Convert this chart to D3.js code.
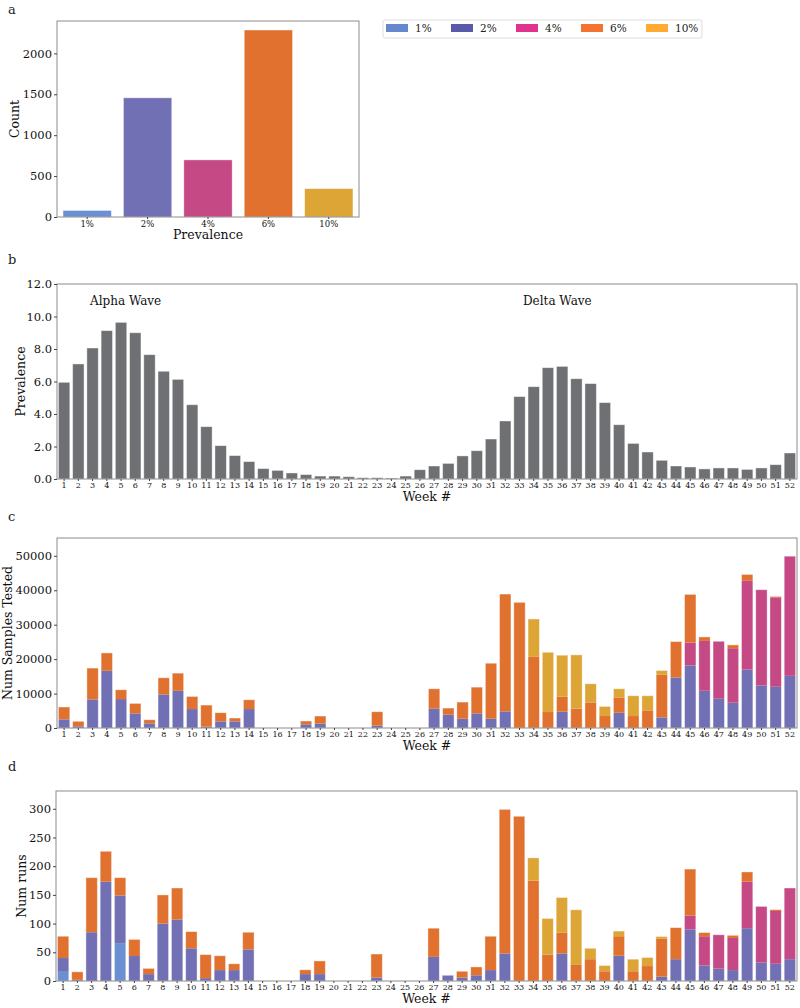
<!DOCTYPE html>
<html>
<head>
<meta charset="utf-8">
<script src="https://cdn.jsdelivr.net/npm/d3@7"></script>
<style>
  body { margin: 0; background: #fff; }
  svg { font-family: "DejaVu Serif", serif; }
  .frame { fill: none; stroke: #8c8c8c; stroke-width: 1; }
  .tick line { stroke: #444; }
  .domain { display: none; }
</style>
</head>
<body>
<div id="chart"></div>
<script>
// ---- donnees ----
var prevLevels = ["1%", "2%", "4%", "6%", "10%"];
var prevCounts = [80, 1457, 698, 2286, 347];

var weeks = d3.range(1, 53).map(String);

var weeklyPrevalence = [5.95, 7.08, 8.06, 9.13, 9.64, 9.0, 7.65, 6.63, 6.13, 4.57,
  3.22, 2.05, 1.44, 1.07, 0.64, 0.53, 0.37, 0.27, 0.18, 0.18,
  0.14, 0.08, 0.08, 0.06, 0.18, 0.57, 0.8, 0.96, 1.42, 1.74,
  2.46, 3.57, 5.07, 5.68, 6.85, 6.93, 6.17, 5.87, 4.7, 3.34,
  2.19, 1.66, 1.15, 0.8, 0.74, 0.62, 0.68, 0.68, 0.59, 0.68,
  0.88, 1.6];

// samples tested per prevalence level
var samples1 = [0, 0, 0, 0, 0, 0, 0, 0, 0, 0, 0, 0, 0, 0, 0, 0, 0, 0, 0, 0, 0, 0, 0, 0, 0, 0,
  0, 0, 0, 0, 0, 0, 0, 0, 0, 0, 0, 0, 0, 0, 0, 0, 0, 0, 0, 0, 0, 0, 0, 0, 0, 0];
var samples2 = [2500, 500, 8300, 16600, 8400, 4250, 1350, 9750, 10800, 5500,
  390, 1930, 1930, 5500, 0, 0, 0, 1060, 1250, 0,
  0, 0, 680, 0, 0, 0, 5600, 3860, 2700, 4250,
  2700, 4830, 0, 0, 0, 4730, 0, 0, 0, 4440,
  0, 0, 3090, 14670, 18150, 10810, 8490, 7340, 16990, 12360,
  11970, 15150];
var samples4 = [0, 0, 0, 0, 0, 0, 0, 0, 0, 0, 0, 0, 0, 0, 0, 0, 0, 0, 0, 0,
  0, 0, 0, 0, 0, 0, 0, 0, 0, 0, 0, 0, 0, 0, 0, 0, 0, 0, 0, 0,
  0, 0, 0, 0, 6660, 14480, 16700, 15830, 25770, 27800, 25970, 34750];
var samples6 = [3600, 1450, 9100, 5200, 2700, 2900, 1050, 4830, 5130, 3670,
  6270, 2510, 970, 2700, 0, 0, 0, 970, 2225, 0,
  0, 0, 4050, 0, 0, 0, 5790, 1930, 4830, 7620,
  16120, 34070, 36500, 20660, 4630, 4340, 5600, 7430, 3475, 4440,
  3475, 5120, 12450, 10430, 14000, 1160, 0, 960, 1840, 0,
  290, 0];
var samples10 = [0, 0, 0, 0, 0, 0, 0, 0, 0, 0, 0, 0, 0, 0, 0, 0, 0, 0, 0, 0,
  0, 0, 0, 0, 0, 0, 0, 0, 0, 0, 0, 0, 0, 11000, 17370, 12070, 15640, 5410, 2800, 2510,
  5890, 4240, 1160, 0, 0, 0, 0, 0, 0, 0, 0, 0];

// number of runs per prevalence level
var runs1 = [16, 0, 0, 0, 66, 0, 0, 0, 0, 0, 0, 0, 0, 0, 0, 0, 0, 0, 0, 0, 0, 0, 0, 0, 0, 0,
  0, 0, 0, 0, 0, 0, 0, 0, 0, 0, 0, 0, 0, 0, 0, 0, 0, 0, 0, 0, 0, 0, 0, 0, 0, 0];
var runs2 = [24, 2, 85, 173, 83, 43.5, 12, 100, 107, 57,
  5, 19, 19, 55, 0, 0, 0, 12, 12, 0,
  0, 0, 6, 0, 0, 0, 42, 10, 6, 10,
  19, 48, 0, 0, 0, 48, 0, 0, 0, 44,
  0, 0, 7.5, 38, 90, 27, 21.5, 19, 92, 32,
  30, 38];
var runs4 = [0, 0, 0, 0, 0, 0, 0, 0, 0, 0, 0, 0, 0, 0, 0, 0, 0, 0, 0, 0,
  0, 0, 0, 0, 0, 0, 0, 0, 0, 0, 0, 0, 0, 0, 0, 0, 0, 0, 0, 0,
  0, 0, 0, 0, 24, 51, 59, 56, 81, 98, 92, 124];
var runs6 = [38, 14, 95, 53, 31, 29, 10, 50, 55, 29,
  41, 25, 11, 30, 0, 0, 0, 7.5, 23, 0,
  0, 0, 41, 0, 0, 0, 50, 0, 11, 14.5,
  59, 251, 287, 175, 46, 36.5, 28, 38, 17, 34,
  17, 26, 66, 55, 81, 6.4, 0, 4.6, 17, 0,
  2.3, 0];
var runs10 = [0, 0, 0, 0, 0, 0, 0, 0, 0, 0, 0, 0, 0, 0, 0, 0, 0, 0, 0, 0,
  0, 0, 0, 0, 0, 0, 0, 0, 0, 0, 0, 0, 0, 39.5, 63, 61, 96, 19, 10, 9,
  21, 15, 4, 0, 0, 0, 0, 0, 0, 0, 0, 0];

// couleurs
var barColors = ["#6a8fd2", "#7270b5", "#c44985", "#e0712f", "#dca536"];
var legendColors = ["#6688cc", "#5a5aab", "#e0338c", "#f57330", "#ffaa33"];
var grayBar = "#6e7073";

// ---- svg ----
var svg = d3.select("#chart").append("svg")
    .attr("width", 800)
    .attr("height", 1008);

function panelLetter(letter, x, y) {
    svg.append("text")
        .attr("x", x).attr("y", y)
        .attr("font-size", 13)
        .attr("fill", "#222")
        .text(letter);
}

function frame(box) {
    svg.append("rect")
        .attr("class", "frame")
        .attr("x", box.left).attr("y", box.top)
        .attr("width", box.right - box.left)
        .attr("height", box.bottom - box.top);
}

function yAxis(box, y, ticks, fmt) {
    var g = svg.append("g")
        .attr("transform", "translate(" + box.left + ",0)")
        .call(d3.axisLeft(y).tickValues(ticks).tickFormat(fmt).tickSize(3).tickPadding(2));
    g.attr("font-family", null).attr("font-size", null);
    g.selectAll("text").attr("font-size", 11.5).attr("fill", "#111");
}

function xAxis(box, x, fontSize) {
    var g = svg.append("g")
        .attr("transform", "translate(0," + box.bottom + ")")
        .call(d3.axisBottom(x).tickSize(2).tickPadding(1.5));
    g.attr("font-family", null).attr("font-size", null);
    g.selectAll("text").attr("font-size", fontSize).attr("fill", "#111");
}

function axisLabels(box, xlabel, ylabel, ylabelX) {
    svg.append("text")
        .attr("x", (box.left + box.right) / 2)
        .attr("y", box.bottom + 18)
        .attr("dy", "0.35em")
        .attr("text-anchor", "middle")
        .attr("font-size", 12.5)
        .attr("fill", "#111")
        .text(xlabel);
    svg.append("text")
        .attr("transform", "translate(" + ylabelX + "," + (box.top + box.bottom) / 2 + ") rotate(-90)")
        .attr("dy", "0.35em")
        .attr("text-anchor", "middle")
        .attr("font-size", 12.5)
        .attr("fill", "#111")
        .text(ylabel);
}

//----------------------------------------------------------------
// a : distribution des prevalences
//----------------------------------------------------------------
var boxA = {left: 57, right: 359, top: 21, bottom: 217};
panelLetter("a", 8, 14);

var xA = d3.scaleBand().domain(prevLevels).range([boxA.left, boxA.right])
    .paddingInner(0.2).paddingOuter(0.1);
var yA = d3.scaleLinear().domain([0, 2396]).range([boxA.bottom, boxA.top]);

svg.append("g").selectAll("rect")
    .data(prevLevels)
    .enter().append("rect")
    .attr("x", function(d) { return xA(d); })
    .attr("width", xA.bandwidth())
    .attr("y", function(d, i) { return yA(prevCounts[i]); })
    .attr("height", function(d, i) { return yA(0) - yA(prevCounts[i]); })
    .attr("fill", function(d, i) { return barColors[i]; })
    .attr("stroke", "#fff").attr("stroke-opacity", 0.5).attr("stroke-width", 0.8);

frame(boxA);
yAxis(boxA, yA, [0, 500, 1000, 1500, 2000], d3.format("d"));
xAxis(boxA, xA, 8.5);
axisLabels(boxA, "Prevalence", "Count", 15);

// legende
var legendBox = svg.append("g");
legendBox.append("rect")
    .attr("x", 383).attr("y", 20).attr("width", 319).attr("height", 18)
    .attr("rx", 2)
    .attr("fill", "#fff").attr("stroke", "#ddd");
var leg = legendBox.selectAll(".legend")
    .data(prevLevels)
    .enter().append("g")
    .attr("class", "legend")
    .attr("transform", function(d, i) { return "translate(" + (386 + i * 65) + ",28)"; });
leg.append("rect")
    .attr("x", 0).attr("y", -4).attr("width", 22).attr("height", 8)
    .attr("fill", function(d, i) { return legendColors[i]; });
leg.append("text")
    .attr("x", 29).attr("dy", "0.35em")
    .attr("font-size", 10.5)
    .attr("fill", "#222")
    .text(function(d) { return d; });

//----------------------------------------------------------------
// b : prevalence hebdomadaire
//----------------------------------------------------------------
var boxB = {left: 57, right: 797, top: 284, bottom: 479};
panelLetter("b", 8, 264);

var xW = d3.scaleBand().domain(weeks).range([boxB.left, boxB.right])
    .paddingInner(0.2).paddingOuter(0.1);
var yB = d3.scaleLinear().domain([0, 12]).range([boxB.bottom, boxB.top]);

svg.append("g").selectAll("rect")
    .data(weeks)
    .enter().append("rect")
    .attr("x", function(d) { return xW(d); })
    .attr("width", xW.bandwidth())
    .attr("y", function(d, i) { return yB(weeklyPrevalence[i]); })
    .attr("height", function(d, i) { return yB(0) - yB(weeklyPrevalence[i]); })
    .attr("fill", grayBar)
    .attr("stroke", "#fff").attr("stroke-opacity", 0.5).attr("stroke-width", 0.8);

svg.append("text").attr("x", 90).attr("y", 301).attr("dy", "0.35em")
    .attr("font-size", 12).attr("fill", "#111").text("Alpha Wave");
svg.append("text").attr("x", 523).attr("y", 301).attr("dy", "0.35em")
    .attr("font-size", 12).attr("fill", "#111").text("Delta Wave");

frame(boxB);
yAxis(boxB, yB, [0, 2, 4, 6, 8, 10, 12], d3.format(".1f"));
xAxis(boxB, xW, 8);
axisLabels(boxB, "Week #", "Prevalence", 21);

//----------------------------------------------------------------
// barres empilees par niveau de prevalence
//----------------------------------------------------------------
function stackedPanel(box, series, yMax, ticks, ylabel, ylabelX) {
    var rows = weeks.map(function(w, i) {
        var r = {week: w};
        prevLevels.forEach(function(p, k) { r[p] = series[k][i]; });
        return r;
    });
    var stacked = d3.stack().keys(prevLevels)(rows);

    var x = d3.scaleBand().domain(weeks).range([box.left, box.right])
        .paddingInner(0.2).paddingOuter(0.1);
    var y = d3.scaleLinear().domain([0, yMax]).range([box.bottom, box.top]);

    svg.append("g").selectAll("g")
        .data(stacked)
        .enter().append("g")
        .attr("fill", function(d, k) { return barColors[k]; })
        .selectAll("rect")
        .data(function(d) { return d.filter(function(s) { return s[1] - s[0] > 0; }); })
        .enter().append("rect")
        .attr("x", function(d) { return x(d.data.week); })
        .attr("width", x.bandwidth())
        .attr("y", function(d) { return y(d[1]); })
        .attr("height", function(d) { return y(d[0]) - y(d[1]); });

    // contour clair autour de chaque pile
    svg.append("g").selectAll("rect")
        .data(rows.filter(function(r) { return d3.sum(prevLevels, function(p) { return r[p]; }) > 0; }))
        .enter().append("rect")
        .attr("x", function(d) { return x(d.week); })
        .attr("width", x.bandwidth())
        .attr("y", function(d) { return y(d3.sum(prevLevels, function(p) { return d[p]; })); })
        .attr("height", function(d) { return y(0) - y(d3.sum(prevLevels, function(p) { return d[p]; })); })
        .attr("fill", "none")
        .attr("stroke", "#fff").attr("stroke-opacity", 0.5).attr("stroke-width", 0.8);

    frame(box);
    yAxis(box, y, ticks, d3.format("d"));
    xAxis(box, x, 8);
    axisLabels(box, "Week #", ylabel, ylabelX);
}

// c : echantillons testes
var boxC = {left: 57, right: 797, top: 538, bottom: 728};
panelLetter("c", 8, 521);
stackedPanel(boxC, [samples1, samples2, samples4, samples6, samples10], 55180,
    [0, 10000, 20000, 30000, 40000, 50000], "Num Samples Tested", 8);

// d : nombre de runs
var boxD = {left: 56, right: 797, top: 791, bottom: 981};
panelLetter("d", 8, 771);
stackedPanel(boxD, [runs1, runs2, runs4, runs6, runs10], 331,
    [0, 50, 100, 150, 200, 250, 300], "Num runs", 22);
</script>
</body>
</html>
